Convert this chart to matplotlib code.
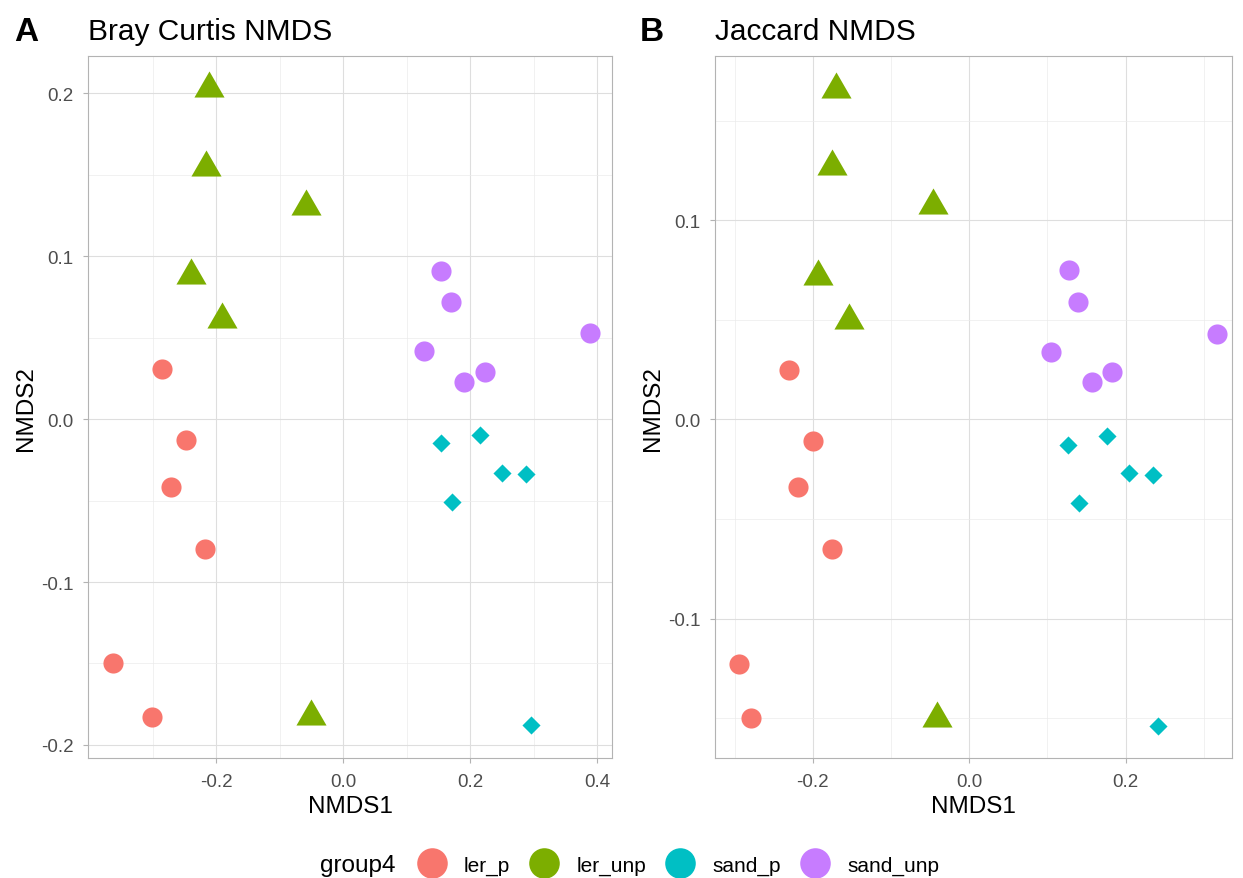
import numpy as np
import matplotlib
matplotlib.use("Agg")
import matplotlib.pyplot as plt
from matplotlib.lines import Line2D

plt.rcParams['font.family'] = ['Liberation Sans', 'DejaVu Sans']

groups = ['ler_p', 'ler_unp', 'sand_p', 'sand_unp']
colors = ['#F8766D', '#7CAE00', '#00BFC4', '#C77CFF']

# Bray Curtis NMDS scores
bc_x = {
    'ler_p':    [-0.285, -0.247, -0.271, -0.217, -0.362, -0.301],
    'ler_unp':  [-0.211, -0.216, -0.058, -0.239, -0.191, -0.050],
    'sand_p':   [0.154, 0.216, 0.250, 0.288, 0.172, 0.296],
    'sand_unp': [0.154, 0.170, 0.128, 0.191, 0.224, 0.389],
}
bc_y = {
    'ler_p':    [0.031, -0.013, -0.042, -0.080, -0.150, -0.183],
    'ler_unp':  [0.2055, 0.157, 0.133, 0.091, 0.064, -0.180],
    'sand_p':   [-0.015, -0.010, -0.033, -0.034, -0.051, -0.188],
    'sand_unp': [0.091, 0.072, 0.042, 0.023, 0.029, 0.053],
}

# Jaccard NMDS scores
jc_x = {
    'ler_p':    [-0.230, -0.1995, -0.219, -0.175, -0.294, -0.279],
    'ler_unp':  [-0.170, -0.175, -0.046, -0.193, -0.153, -0.041],
    'sand_p':   [0.127, 0.176, 0.205, 0.235, 0.141, 0.242],
    'sand_unp': [0.128, 0.139, 0.105, 0.157, 0.183, 0.317],
}
jc_y = {
    'ler_p':    [0.025, -0.011, -0.034, -0.065, -0.123, -0.150],
    'ler_unp':  [0.168, 0.129, 0.1095, 0.074, 0.052, -0.148],
    'sand_p':   [-0.013, -0.0085, -0.027, -0.028, -0.042, -0.154],
    'sand_unp': [0.075, 0.059, 0.034, 0.019, 0.024, 0.043],
}

x_breaks_A = [-0.2, 0.0, 0.2, 0.4]
x_minor_A = [-0.3, -0.1, 0.1, 0.3]
y_breaks_A = [-0.2, -0.1, 0.0, 0.1, 0.2]
y_minor_A = [-0.15, -0.05, 0.05, 0.15]
x_breaks_B = [-0.2, 0.0, 0.2]
x_minor_B = [-0.3, -0.1, 0.1, 0.3]
y_breaks_B = [-0.1, 0.0, 0.1]
y_minor_B = [-0.15, -0.05, 0.05, 0.15]

tri = [(0, 0.75), (-0.866, -0.75), (0.866, -0.75)]
markers = {'ler_p': ('o', 210), 'ler_unp': (tri, 470),
           'sand_p': ('D', 85), 'sand_unp': ('o', 210)}

fig = plt.figure(figsize=(12.43, 8.79), dpi=100)
axA = fig.add_axes([0.0708, 0.1365, 0.4216, 0.7985])
axB = fig.add_axes([0.5752, 0.1365, 0.4159, 0.7985])


def fmt(v):
    return f"{v:.1f}".replace('-0.0', '0.0')


def style(ax, xb, xm, yb, ym):
    for s in ax.spines.values():
        s.set_color('#B3B3B3')
        s.set_linewidth(0.8)
    ax.set_axisbelow(True)
    ax.set_xticks(xb)
    ax.set_xticklabels([fmt(v) for v in xb])
    ax.set_yticks(yb)
    ax.set_yticklabels([fmt(v) for v in yb])
    ax.set_xticks(xm, minor=True)
    ax.set_yticks(ym, minor=True)
    ax.grid(True, which='major', color='#DEDEDE', linewidth=0.8)
    ax.grid(True, which='minor', color='#EBEBEB', linewidth=0.5)
    ax.tick_params(which='major', length=3.5, color='#B3B3B3', labelsize=13.5,
                   labelcolor='#4D4D4D', pad=7)
    ax.tick_params(which='minor', length=0)
    ax.set_xlabel('NMDS1', fontsize=17.5, labelpad=4)
    ax.set_ylabel('NMDS2', fontsize=17.5, labelpad=3)


for ax, xs, ys in [(axA, bc_x, bc_y), (axB, jc_x, jc_y)]:
    for g, c in zip(groups, colors):
        m, s = markers[g]
        ax.scatter(xs[g], ys[g], marker=m, s=s, color=c, linewidths=0, zorder=3)

style(axA, x_breaks_A, x_minor_A, y_breaks_A, y_minor_A)
style(axB, x_breaks_B, x_minor_B, y_breaks_B, y_minor_B)

axA.set_xlim(-0.402, 0.4236)
axA.set_ylim(-0.208, 0.2227)
axB.set_xlim(-0.325, 0.336)
axB.set_ylim(-0.170, 0.1824)

axA.set_title('Bray Curtis NMDS', loc='left', fontsize=21.5, pad=12)
axB.set_title('Jaccard NMDS', loc='left', fontsize=21.5, pad=12)
fig.text(0.011, 0.963, 'A', fontsize=24, fontweight='bold', va='center')
fig.text(0.515, 0.963, 'B', fontsize=24, fontweight='bold', va='center')

handles = [Line2D([], [], marker='o', linestyle='', markersize=22,
                  markerfacecolor=c, markeredgewidth=0) for c in colors]
fig.text(0.2574, 0.0148, 'group4', fontsize=17.5, va='center')
fig.legend(handles, groups, loc='center left', bbox_to_anchor=(0.334, 0.0148),
           ncol=4, frameon=False, fontsize=15, handletextpad=0.74,
           columnspacing=0.84, borderaxespad=0, borderpad=0, handlelength=1.6)

fig.savefig('out.png', dpi=100)
